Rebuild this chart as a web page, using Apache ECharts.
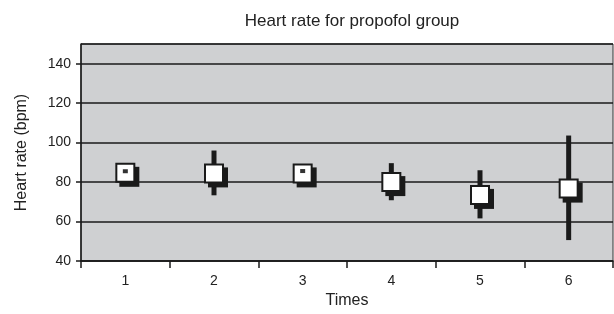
<!DOCTYPE html>
<html>
<head>
<meta charset="utf-8">
<script src="https://cdn.jsdelivr.net/npm/echarts@6/dist/echarts.min.js"></script>
<style>
  html, body { margin: 0; padding: 0; background: #fff; }
  #chart { width: 614px; height: 314px; }
</style>
</head>
<body>
<div id="chart"></div>
<script>
// values
var times = ['1', '2', '3', '4', '5', '6']
var meanHR = [84.7, 84.4, 84.4, 80.0, 73.5, 76.7]
var lowHR = [null, 73.3, null, 70.8, 61.6, 50.6]
var highHR = [null, 96.0, null, 89.6, 86.0, 103.6]
var dotHR = [85.5, null, 85.6, null, null, null]

var rangeData = []
var boxData = []
for (var i = 0; i < times.length; i++) {
  if (lowHR[i] !== null) rangeData.push([i, lowHR[i], highHR[i]])
  boxData.push([i, meanHR[i]])
}

var font = 'Liberation Sans, Arial, sans-serif'
var ink = '#1a1a1a'
var myChart = echarts.init(document.getElementById('chart'))
myChart.setOption({
  backgroundColor: '#fff',
  animation: false,
  title: {
    text: 'Heart rate for propofol group',
    left: 347,
    textAlign: 'center',
    top: 8,
    textStyle: { fontFamily: font, fontSize: 17, fontWeight: 'normal', color: '#222' }
  },
  grid: {
    left: 81,
    right: 1,
    top: 44,
    bottom: 53,
    show: true,
    backgroundColor: '#cfd0d2',
    borderColor: '#333',
    borderWidth: 1
  },
  xAxis: {
    type: 'category',
    data: times,
    boundaryGap: true,
    name: 'Times',
    nameLocation: 'middle',
    nameGap: 31,
    nameTextStyle: { fontFamily: font, fontSize: 16, color: '#222' },
    axisLine: { lineStyle: { color: ink, width: 1.5 } },
    axisTick: { show: true, length: 7, lineStyle: { color: ink, width: 1.5 } },
    axisLabel: { margin: 13, fontFamily: font, fontSize: 14, color: '#222' }
  },
  yAxis: {
    type: 'value',
    min: 40,
    max: 150,
    interval: 20,
    name: 'Heart rate (bpm)',
    nameLocation: 'middle',
    nameRotate: 90,
    nameGap: 51,
    nameTextStyle: { fontFamily: font, fontSize: 16, color: '#222' },
    axisLine: { show: true, lineStyle: { color: ink, width: 1.5 } },
    axisTick: { show: true, length: 5, lineStyle: { color: ink, width: 1.5 } },
    axisLabel: { margin: 10, showMaxLabel: false, fontFamily: font, fontSize: 14, color: '#222' },
    splitLine: { show: true, lineStyle: { color: ink, width: 1.5 } }
  },
  series: [
    {
      name: 'range',
      type: 'custom',
      z: 2,
      data: rangeData,
      renderItem: function (params, api) {
        var lo = api.coord([api.value(0), api.value(1)])
        var hi = api.coord([api.value(0), api.value(2)])
        return {
          type: 'rect',
          shape: { x: lo[0] - 2.5, y: hi[1], width: 5, height: lo[1] - hi[1] },
          style: { fill: ink }
        }
      }
    },
    {
      name: 'mean',
      type: 'custom',
      z: 3,
      data: boxData,
      renderItem: function (params, api) {
        var p = api.coord([api.value(0), api.value(1)])
        return {
          type: 'group',
          children: [
            {
              type: 'rect',
              shape: { x: p[0] - 6, y: p[1] - 6, width: 20, height: 20 },
              style: { fill: ink }
            },
            {
              type: 'rect',
              shape: { x: p[0] - 9, y: p[1] - 9, width: 18, height: 18 },
              style: { fill: '#fff', stroke: ink, lineWidth: 2 }
            }
          ]
        }
      }
    },
    {
      name: 'dot',
      type: 'scatter',
      z: 4,
      data: dotHR,
      symbol: 'rect',
      symbolSize: [5, 4],
      itemStyle: { color: '#000' }
    }
  ]
})
</script>
</body>
</html>
